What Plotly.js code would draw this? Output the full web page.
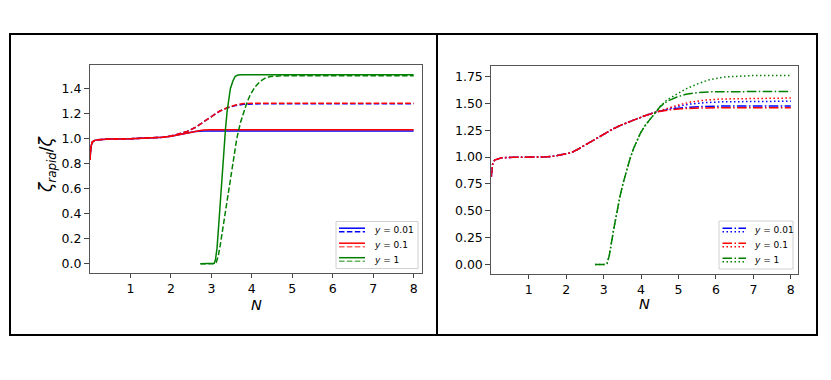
<!DOCTYPE html>
<html><head><meta charset="utf-8">
<script src="https://cdn.plot.ly/plotly-3.0.1.min.js"></script>
<style>html,body{margin:0;padding:0;background:#fff}#chart{width:831px;height:380px}</style>
</head><body><div id="chart"></div>
<script>
// ---------- DATA ----------
// Left panel: solid (y=0.01 blue, y=0.1 red) share x
const leftSolidX     = [0, 0.02, 0.05, 0.1, 0.2, 0.5, 1.0, 1.5, 1.8, 2.0, 2.2, 2.4, 2.6, 2.8, 3.0, 3.3, 8];
const leftRedSolidY  = [0.83, 0.93, 0.97, 0.985, 0.993, 0.998, 1.0, 1.005, 1.012, 1.02, 1.033, 1.05, 1.063, 1.07, 1.072, 1.072, 1.072];
const leftBlueSolidY = [0.83, 0.93, 0.97, 0.985, 0.993, 0.998, 1.0, 1.005, 1.012, 1.02, 1.033, 1.048, 1.058, 1.062, 1.063, 1.063, 1.063];
// Left panel: dashed (y=0.01 blue, y=0.1 red) share x
const leftDashX      = [0, 0.02, 0.05, 0.1, 0.2, 0.5, 1.0, 1.5, 1.8, 2.0, 2.2, 2.4, 2.6, 2.8, 3.0, 3.2, 3.4, 3.6, 3.8, 4.0, 4.2, 8];
const leftRedDashY   = [0.83, 0.93, 0.97, 0.985, 0.993, 0.998, 1.0, 1.005, 1.012, 1.022, 1.037, 1.058, 1.09, 1.135, 1.18, 1.22, 1.25, 1.27, 1.282, 1.285, 1.285, 1.285];
const leftBlueDashY  = [0.83, 0.93, 0.97, 0.985, 0.993, 0.998, 1.0, 1.005, 1.012, 1.022, 1.037, 1.058, 1.09, 1.135, 1.18, 1.22, 1.248, 1.266, 1.276, 1.28, 1.28, 1.28];
// Left panel: y=1 green
const leftGreenSolidX = [2.73, 3.0, 3.07, 3.1, 3.14, 3.18, 3.22, 3.26, 3.30, 3.35, 3.39, 3.43, 3.47, 3.53, 3.59, 3.66, 3.75, 8];
const leftGreenSolidY = [0, 0, 0.005, 0.03, 0.125, 0.30, 0.50, 0.70, 0.90, 1.08, 1.22, 1.32, 1.40, 1.46, 1.50, 1.51, 1.513, 1.513];
const leftGreenDashX  = [2.73, 3.05, 3.12, 3.17, 3.22, 3.30, 3.39, 3.51, 3.63, 3.72, 3.80, 3.88, 3.96, 4.08, 4.21, 4.33, 4.46, 4.6, 4.8, 8];
const leftGreenDashY  = [0, 0, 0.01, 0.06, 0.15, 0.32, 0.50, 0.765, 1.005, 1.13, 1.22, 1.29, 1.35, 1.415, 1.46, 1.485, 1.498, 1.503, 1.505, 1.505];

// Right panel: y=0.01 / y=0.1 share x
const rightX          = [0, 0.03, 0.09, 0.27, 0.6, 1.0, 1.25, 1.5, 1.7, 1.9, 2.14, 2.35, 2.59, 2.8, 3.03, 3.25, 3.48, 3.7, 3.89, 4.1, 4.43, 4.75, 5.05, 5.32, 5.7, 6.2, 7.0, 8];
const rightRedDashDotY  = [0.817, 0.93, 0.973, 0.994, 0.998, 1.0, 1.0, 1.003, 1.01, 1.022, 1.041, 1.08, 1.13, 1.175, 1.22, 1.262, 1.30, 1.33, 1.36, 1.385, 1.42, 1.44, 1.45, 1.455, 1.458, 1.46, 1.46, 1.46];
const rightBlueDashDotY = [0.817, 0.93, 0.973, 0.994, 0.998, 1.0, 1.0, 1.003, 1.01, 1.022, 1.041, 1.08, 1.13, 1.175, 1.22, 1.262, 1.30, 1.33, 1.36, 1.385, 1.422, 1.445, 1.458, 1.466, 1.472, 1.475, 1.476, 1.476];
const rightRedDotY      = [0.817, 0.93, 0.973, 0.994, 0.998, 1.0, 1.0, 1.003, 1.01, 1.022, 1.041, 1.08, 1.13, 1.175, 1.22, 1.262, 1.30, 1.33, 1.36, 1.385, 1.425, 1.46, 1.49, 1.512, 1.53, 1.541, 1.548, 1.55];
const rightBlueDotY     = [0.817, 0.93, 0.973, 0.994, 0.998, 1.0, 1.0, 1.003, 1.01, 1.022, 1.041, 1.08, 1.13, 1.175, 1.22, 1.262, 1.30, 1.33, 1.36, 1.385, 1.424, 1.455, 1.478, 1.494, 1.507, 1.515, 1.519, 1.52];
// Right panel: y=1 green
const rightGreenX        = [2.77, 3.05, 3.09, 3.15, 3.27, 3.35, 3.44, 3.53, 3.62, 3.71, 3.80, 3.89, 3.98, 4.1, 4.25, 4.38, 4.51, 4.7, 4.96, 5.2, 5.5, 5.8, 6.2, 7, 8];
const rightGreenDashDotY = [0, 0, 0.01, 0.08, 0.33, 0.49, 0.64, 0.77, 0.89, 0.99, 1.08, 1.155, 1.22, 1.29, 1.36, 1.42, 1.47, 1.52, 1.56, 1.585, 1.60, 1.607, 1.61, 1.61, 1.61];
const rightGreenDotY     = [0, 0, 0.01, 0.08, 0.33, 0.49, 0.64, 0.77, 0.89, 0.99, 1.08, 1.155, 1.22, 1.29, 1.36, 1.42, 1.47, 1.535, 1.59, 1.635, 1.68, 1.718, 1.745, 1.76, 1.76];

// Ticks
const xTickVals      = [1, 2, 3, 4, 5, 6, 7, 8];
const leftYTickVals  = [0, 0.2, 0.4, 0.6, 0.8, 1.0, 1.2, 1.4];
const leftYTickText  = ["0.0", "0.2", "0.4", "0.6", "0.8", "1.0", "1.2", "1.4"];
const rightYTickVals = [0, 0.25, 0.5, 0.75, 1.0, 1.25, 1.5, 1.75];
const rightYTickText = ["0.00", "0.25", "0.50", "0.75", "1.00", "1.25", "1.50", "1.75"];
const legendLabels   = ["<i>y</i> = 0.01", "<i>y</i> = 0.1", "<i>y</i> = 1"];

// ---------- STYLE ----------
const BLUE = '#0000ff', RED = '#ff0000', GREEN = '#008000';
const LW = 1.5;
const DASH = '5.5px,2.4px', DASHDOT = '9.6px,2.4px,1.5px,2.4px', DOT = '1.5px,2.5px';
const W = 831, H = 380;
const px = x => x / W, py = y => 1 - y / H;

function tr(x, y, color, dash, xa, ya) {
  return {x: x, y: y, type: 'scatter', mode: 'lines', xaxis: xa, yaxis: ya,
    line: {color: color, width: LW, dash: dash}, showlegend: false, hoverinfo: 'skip'};
}

const data = [
  tr(leftSolidX, leftBlueSolidY, BLUE, 'solid', 'x', 'y'),
  tr(leftDashX, leftBlueDashY, BLUE, DASH, 'x', 'y'),
  tr(leftSolidX, leftRedSolidY, RED, 'solid', 'x', 'y'),
  tr(leftDashX, leftRedDashY, RED, DASH, 'x', 'y'),
  tr(leftGreenSolidX, leftGreenSolidY, GREEN, 'solid', 'x', 'y'),
  tr(leftGreenDashX, leftGreenDashY, GREEN, DASH, 'x', 'y'),
  tr(rightX, rightBlueDashDotY, BLUE, DASHDOT, 'x2', 'y2'),
  tr(rightX, rightBlueDotY, BLUE, DOT, 'x2', 'y2'),
  tr(rightX, rightRedDashDotY, RED, DASHDOT, 'x2', 'y2'),
  tr(rightX, rightRedDotY, RED, DOT, 'x2', 'y2'),
  tr(rightGreenX, rightGreenDashDotY, GREEN, DASHDOT, 'x2', 'y2'),
  tr(rightGreenX, rightGreenDotY, GREEN, DOT, 'x2', 'y2')
];

const FONT = 'DejaVu Sans, sans-serif';
const tickFont = {family: FONT, size: 12.5, color: '#000'};
function xax(domain) {
  return {domain: domain, range: [0, 8.2], tickmode: 'array', tickvals: xTickVals,
    ticks: 'outside', ticklen: 4, tickwidth: 1, tickcolor: '#444', tickfont: tickFont,
    showline: true, linecolor: '#555', linewidth: 1, mirror: true,
    showgrid: false, zeroline: false, fixedrange: true};
}
function yax(domain, range, vals, text, anchor) {
  return {domain: domain, range: range, tickmode: 'array', tickvals: vals, ticktext: text,
    ticks: 'outside', ticklen: 5, tickwidth: 1, tickcolor: '#444', tickfont: tickFont,
    showline: true, linecolor: '#555', linewidth: 1, mirror: true, anchor: anchor,
    showgrid: false, zeroline: false, fixedrange: true};
}

const shapes = [];
const annotations = [];
// outer frames
shapes.push({type: 'rect', xref: 'paper', yref: 'paper', x0: px(10), x1: px(437), y0: py(335), y1: py(34),
  line: {color: '#000', width: 2}, fillcolor: 'rgba(0,0,0,0)'});
shapes.push({type: 'rect', xref: 'paper', yref: 'paper', x0: px(437), x1: px(817), y0: py(335), y1: py(34),
  line: {color: '#000', width: 2}, fillcolor: 'rgba(0,0,0,0)'});

// custom legends (two line samples per entry)
function legend(box, lx0, lx1, tx, rows, colors, topDash, botDash, botAlpha) {
  shapes.push({type: 'rect', xref: 'paper', yref: 'paper', x0: px(box[0]), x1: px(box[1]), y0: py(box[3]), y1: py(box[2]),
    line: {color: '#d0d0d0', width: 1}, fillcolor: 'rgba(255,255,255,0.85)'});
  rows.forEach((yc, i) => {
    shapes.push({type: 'line', xref: 'paper', yref: 'paper', x0: px(lx0), x1: px(lx1), y0: py(yc - 1.8), y1: py(yc - 1.8),
      line: {color: colors[i], width: LW, dash: topDash}});
    shapes.push({type: 'line', xref: 'paper', yref: 'paper', x0: px(lx0), x1: px(lx1), y0: py(yc + 1.8), y1: py(yc + 1.8),
      line: {color: colors[i], width: LW, dash: botDash}, opacity: botAlpha[i]});
    annotations.push({xref: 'paper', yref: 'paper', x: px(tx), y: py(yc), xanchor: 'left', yanchor: 'middle',
      text: legendLabels[i], showarrow: false, font: {family: FONT, size: 9, color: '#000'}});
  });
}
legend([336, 418, 221.5, 268.5], 339, 365, 372, [230, 245, 259.5], [BLUE, RED, GREEN], 'solid', DASH, [1, 0.6, 0.6]);
legend([719, 793, 221, 269], 722.5, 746, 752, [230, 245, 260], [BLUE, RED, GREEN], DASHDOT, DOT, [1, 1, 1]);

// axis titles
annotations.push({xref: 'paper', yref: 'paper', x: px(256), y: py(305), text: '<i>N</i>', showarrow: false,
  xanchor: 'center', yanchor: 'middle', font: {family: FONT, size: 14.5, color: '#000'}});
annotations.push({xref: 'paper', yref: 'paper', x: px(644.5), y: py(304), text: '<i>N</i>', showarrow: false,
  xanchor: 'center', yanchor: 'middle', font: {family: FONT, size: 14.5, color: '#000'}});
annotations.push({xref: 'paper', yref: 'paper', x: px(47), y: py(164), text: '<i>ζ</i><sub><i>rapid</i></sub>/<i>ζ</i>',
  showarrow: false, textangle: -90, xanchor: 'center', yanchor: 'middle', font: {family: FONT, size: 17, color: '#000'}});

const layout = {
  width: W, height: H, autosize: false,
  margin: {l: 0, r: 0, t: 0, b: 0, pad: 0},
  paper_bgcolor: '#fff', plot_bgcolor: '#fff',
  showlegend: false,
  xaxis: xax([px(90), px(421.7)]),
  yaxis: yax([py(273.3), py(65)], [-0.076, 1.59], leftYTickVals, leftYTickText, 'x'),
  xaxis2: Object.assign(xax([px(491.3), px(798.3)]), {anchor: 'y2'}),
  yaxis2: yax([py(274), py(66)], [-0.088, 1.848], rightYTickVals, rightYTickText, 'x2'),
  shapes: shapes,
  annotations: annotations
};
layout.xaxis.anchor = 'y';

Plotly.newPlot('chart', data, layout, {staticPlot: true, displayModeBar: false});
</script></body></html>
